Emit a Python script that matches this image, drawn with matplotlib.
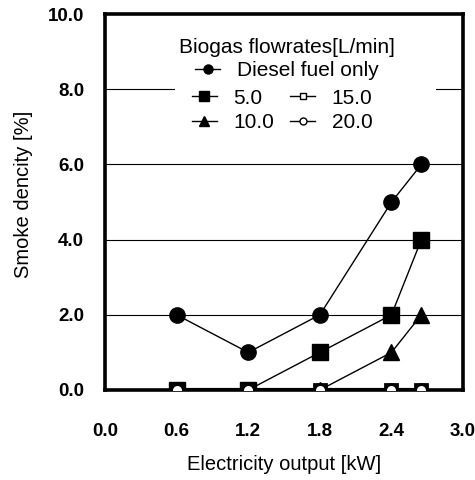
import matplotlib
matplotlib.use('Agg')
import matplotlib.pyplot as plt
from matplotlib.lines import Line2D
from matplotlib.patches import Rectangle

plt.rcParams['font.family'] = ['Liberation Sans', 'DejaVu Sans']

# data
x_output = [0.6, 1.2, 1.8, 2.4, 2.65]
diesel_only = [2.0, 1.0, 2.0, 5.0, 6.0]
biogas_5 = [0.0, 0.0, 1.0, 2.0, 4.0]
biogas_10 = [0.0, 0.0, 0.0, 1.0, 2.0]
biogas_15 = [0.0, 0.0, 0.0, 0.0, 0.0]
biogas_20 = [0.0, 0.0, 0.0, 0.0, 0.0]

x_ticks = [0.0, 0.6, 1.2, 1.8, 2.4, 3.0]
y_ticks = [0.0, 2.0, 4.0, 6.0, 8.0, 10.0]

fig = plt.figure(figsize=(4.75, 4.8), dpi=100)
ax = fig.add_axes([0.221, 0.1875, 0.754, 0.783])

for y in [2.0, 4.0, 6.0, 8.0]:
    ax.axhline(y, color='black', lw=0.8, zorder=1)

# white patch behind the legend rows (breaks the 8.0 gridline)
ax.add_patch(Rectangle((0.195, 0.74), 0.73, 0.1, transform=ax.transAxes,
                       facecolor='white', edgecolor='none', zorder=1.5))

ax.plot(x_output, biogas_15, '-', color='black', lw=3, zorder=2)
l15, = ax.plot(x_output, biogas_15, 's', mfc='white', mec='black', mew=2, ms=9, zorder=3)
l10, = ax.plot(x_output, biogas_10, '-^', color='black', lw=1, ms=11, zorder=4)
l5, = ax.plot(x_output, biogas_5, '-s', color='black', lw=1, ms=11, zorder=4)
l20, = ax.plot(x_output, biogas_20, 'o', mfc='white', mec='black', mew=2, ms=8.5, zorder=5)
ld, = ax.plot(x_output, diesel_only, '-o', color='black', lw=1, ms=11, zorder=4)

ax.set_xlim(0, 3.0)
ax.set_ylim(0, 10.0)
ax.set_xticks(x_ticks)
ax.set_yticks(y_ticks)
ax.set_xticklabels(['%.1f' % v for v in x_ticks], fontweight='bold', fontsize=13.5)
ax.set_yticklabels(['%.1f' % v for v in y_ticks], fontweight='bold', fontsize=13.5)
ax.tick_params(axis='x', length=0, pad=24)
ax.tick_params(axis='y', length=0, pad=15)
for s in ax.spines.values():
    s.set_linewidth(2.6)

ax.set_xlabel('Electricity output [kW]', fontsize=14.5)
ax.set_ylabel('Smoke dencity [%]', fontsize=14.5)
ax.xaxis.set_label_coords(0.5, -0.172)
ax.yaxis.set_label_coords(-0.2, 0.52)

h = dict(color='black', lw=1, ms=6.5)
hd = Line2D([], [], marker='o', **h)
h5 = Line2D([], [], marker='s', **h)
h10 = Line2D([], [], marker='^', **h)
h15 = Line2D([], [], marker='s', mfc='white', color='black', lw=1, ms=5)
h20 = Line2D([], [], marker='o', mfc='white', color='black', lw=1, ms=5)

leg1 = ax.legend([hd], ['Diesel fuel only'], title='Biogas flowrates[L/min]',
                 loc='upper center', bbox_to_anchor=(0.508, 0.97), frameon=False,
                 fontsize=15, title_fontsize=15, handlelength=1.2, handletextpad=0.8,
                 borderpad=0.1, labelspacing=0.2)
leg1.set_zorder(6)
ax.add_artist(leg1)
leg2 = ax.legend([h5, h10, h15, h20], ['5.0', '10.0', '15.0', '20.0'], ncol=2,
                 loc='upper left', bbox_to_anchor=(0.208, 0.835), frameon=False,
                 fontsize=15, handlelength=1.2, handletextpad=0.8, columnspacing=0.75,
                 borderpad=0.1, labelspacing=0.25)
leg2.set_zorder(6)

fig.savefig('out.png', dpi=100)
